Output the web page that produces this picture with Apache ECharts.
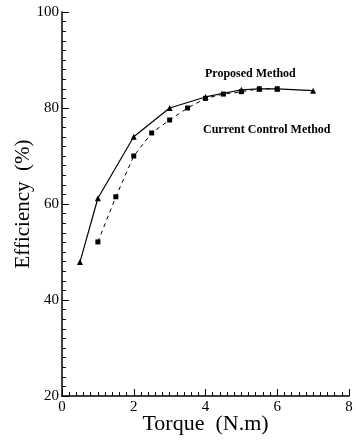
<!DOCTYPE html>
<html><head><meta charset="utf-8">
<script src="https://cdn.jsdelivr.net/npm/echarts@6/dist/echarts.min.js"></script>
<style>html,body{margin:0;padding:0;background:#fff}#c{width:356px;height:440px}</style>
</head><body><div id="c"></div>
<script>
const proposedTorque = [0.5, 1, 2, 3, 4, 5, 5.5, 6, 7];
const proposedEff    = [47.9, 61.2, 74, 80, 82.3, 83.8, 84, 84, 83.6];
const currentTorque  = [1, 1.5, 2, 2.5, 3, 3.5, 4, 4.5, 5, 5.5, 6];
const currentEff     = [52.1, 61.5, 70, 74.8, 77.5, 80, 82, 82.9, 83.4, 84, 84];
const xTicks = [0, 2, 4, 6, 8];
const yTicks = [20, 40, 60, 80, 100];
const labelProposed = 'Proposed Method';
const labelCurrent = 'Current Control Method';

const font = '"Liberation Serif", "DejaVu Serif", serif';
const chart = echarts.init(document.getElementById('c'));
const pair = (xs, ys) => xs.map((x, i) => [x, ys[i]]);
chart.setOption({
  animation: false,
  backgroundColor: '#fff',
  grid: {left: 62, right: 7, top: 12, bottom: 44, outerBoundsMode: 'none'},
  xAxis: {
    type: 'value', min: xTicks[0], max: xTicks[xTicks.length-1], interval: 2,
    axisLine: {show: true, onZero: false, lineStyle: {color: '#000', width: 1.5}},
    axisTick: {show: true, inside: true, length: 7, lineStyle: {color: '#000', width: 1}},
    minorTick: {show: true, splitNumber: 10, length: 4, lineStyle: {color: '#000', width: 1}},
    splitLine: {show: false},
    axisLabel: {color: '#000', fontFamily: font, fontSize: 15, margin: 4},
    name: 'Torque  (N.m)', nameLocation: 'middle', nameGap: 17, nameMoveOverlap: false,
    nameTextStyle: {color: '#000', fontFamily: font, fontSize: 22}
  },
  yAxis: {
    type: 'value', min: yTicks[0], max: yTicks[yTicks.length-1], interval: 20,
    axisLine: {show: true, onZero: false, lineStyle: {color: '#000', width: 1.5}},
    axisTick: {show: true, inside: true, length: 7, lineStyle: {color: '#000', width: 1}},
    minorTick: {show: true, splitNumber: 10, length: 4, lineStyle: {color: '#000', width: 1}},
    splitLine: {show: false},
    axisLabel: {color: '#000', fontFamily: font, fontSize: 15, margin: 3},
    name: 'Efficiency  (%)', nameLocation: 'middle', nameGap: 28, nameMoveOverlap: false,
    nameTextStyle: {color: '#000', fontFamily: font, fontSize: 21}
  },
  series: [{
    type: 'line', name: labelProposed, data: pair(proposedTorque, proposedEff),
    symbol: 'triangle', symbolSize: 6,
    lineStyle: {color: '#000', width: 1.2}, itemStyle: {color: '#000'}
  }, {
    type: 'line', name: labelCurrent, data: pair(currentTorque, currentEff),
    symbol: 'rect', symbolSize: 5,
    lineStyle: {color: '#000', width: 1, type: [4, 4]}, itemStyle: {color: '#000'}
  }],
  graphic: [
    {type: 'text', left: 205, top: 68, style: {text: labelProposed, font: 'bold 12px ' + font, fill: '#000'}},
    {type: 'text', left: 203, top: 124, style: {text: labelCurrent, font: 'bold 12px ' + font, fill: '#000'}}
  ]
});
</script></body></html>
